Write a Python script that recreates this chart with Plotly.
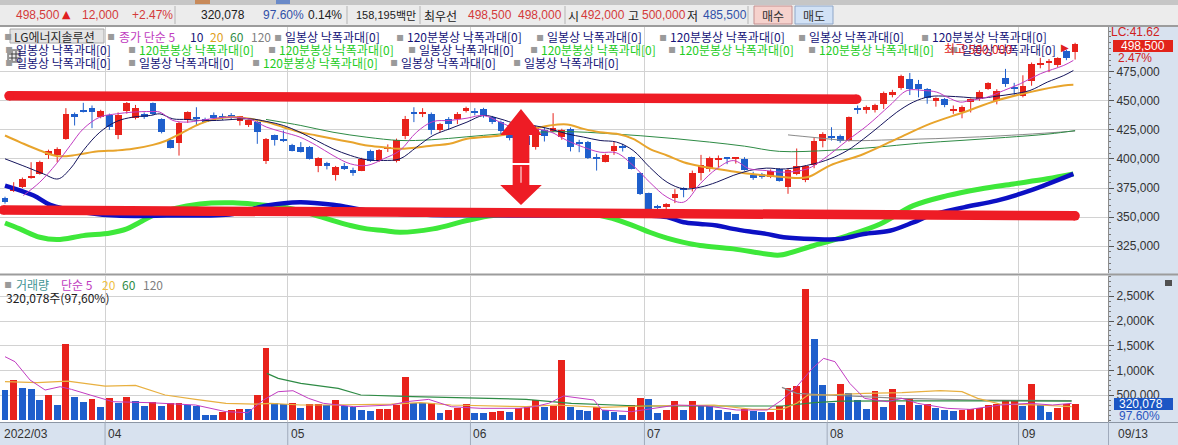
import plotly.graph_objects as go

# ---------------- data ----------------
month_labels = ["2022/03", "04", "05", "06", "07", "08", "09"]
month_start_idx = [0, 12, 33, 54, 74, 95, 117]
last_date_label = "09/13"

open_ = [366400,372800,376200,383700,387100,403500,403500,417300,438800,442300,
         443700,436000,438000,420700,441100,435100,438800,448000,434500,416700,
         413600,433100,435100,434500,438000,436600,436600,432600,428800,432200,
         398600,420200,416500,412100,410100,410100,394300,396600,386600,394300,
         390600,390000,407200,398600,409000,398600,420000,439500,439000,438800,
         424500,434500,434000,441100,440600,443000,436000,431700,424000,415000,
         420000,410000,425300,424000,419000,426000,414000,414500,401000,397800,
         407200,410500,401500,387700,370500,359000,358500,366400,374500,374800,
         388000,391400,399200,400300,400000,400100,386300,387100,384300,391400,
         375700,387100,382200,394900,415800,419000,419500,415800,443200,442200,
         441700,447400,455200,460900,469000,464100,460300,449700,451700,441300,
         440200,448900,451200,460300,450300,469500,460500,454600,466700,480500,
         482600,480500,493000,492000]
high = [367500,380000,384000,397200,398500,408000,410000,443700,440000,448300,
        446000,442300,439000,440000,449000,446500,440000,448600,435000,418000,
        432000,441000,444500,435500,440000,439000,439500,437000,434000,434000,
        418000,421000,424500,413000,414500,411000,401500,397500,394000,396600,
        392500,401000,408000,408500,412500,417500,437000,444500,443700,440000,
        431000,436000,440300,445000,443700,444000,437000,433000,426000,422000,
        421000,428500,427000,439400,426000,427000,416500,415500,404500,404500,
        415000,413000,402000,388500,371000,360500,362000,374000,375600,390000,
        403500,402000,403000,401500,401500,401500,389000,388000,391000,392000,
        392000,409000,394500,418700,423000,427300,421000,436500,446000,446000,
        447500,458000,459500,472500,474000,468000,461000,453000,452500,446000,
        446000,452000,459000,466000,460000,477500,465500,472000,483000,487000,
        486000,487500,494000,500000]
low = [361500,371500,375000,383000,386500,400000,397200,416500,428800,440000,
       426500,435000,425000,417000,439000,434000,434500,437500,422000,409000,
       402900,431000,428800,431500,433000,433500,434000,428800,427500,413000,
       395700,411500,414500,406500,405500,399500,388600,391000,381400,390500,
       385500,389500,397500,397500,406000,397000,417000,431700,436000,421000,
       423000,425000,430000,440000,437500,435500,430000,421500,416000,413000,
       410000,408000,415000,423000,416500,406500,405800,400000,390000,397000,
       403500,406400,391000,369000,355000,355500,355000,362000,367000,372000,
       381500,389000,393000,395500,396000,390000,382000,383000,383500,380500,
       370000,386000,380000,392000,410000,415800,414000,415000,438800,439000,
       440000,443000,453000,459500,455000,453000,447500,445000,444500,438800,
       435000,440000,450000,459500,447000,462000,455200,453000,463000,478000,
       474700,479000,485000,485500]
close = [362700,376200,382800,385700,397800,407200,408700,438800,436000,440300,
         440300,441100,427300,438000,448300,443700,436000,438800,423600,409500,
         431100,440300,434500,432200,435100,436000,436300,436600,433100,423000,
         417300,416700,415900,407200,406400,400100,400900,393700,393400,391400,
         387700,400100,398600,407800,410100,415900,434500,439000,439500,425300,
         429700,429700,438800,443700,440000,436600,431700,424000,418000,420000,
         412000,427300,419600,426500,424500,410000,413000,400700,400500,403500,
         411000,410000,391500,370000,357000,358500,361300,369900,374000,387700,
         395000,400700,399700,400000,400600,390900,383500,384300,390000,381400,
         390900,393700,393700,415800,421600,418700,415800,435900,442500,445100,
         446500,456900,458000,471800,460300,460300,452300,452300,446800,441800,
         444500,451200,458000,465500,458900,464700,460200,463200,481900,482800,
         482900,486500,486500,498500]
volume = [600000,800000,640000,620000,400000,500000,300000,1530000,465000,365000,
          420000,260000,440000,350000,470000,385000,280000,370000,283000,350000,
          350000,296000,283000,100000,95000,170000,200000,230000,225000,500000,
          1460000,336000,323000,336000,235000,316000,320000,296000,404000,275000,
          262000,195000,182000,215000,220000,303000,868000,350000,340000,350000,
          135000,200000,250000,316000,148000,140000,162000,182000,168000,250000,
          255000,404000,270000,283000,1205000,262000,195000,185000,270000,200000,
          168000,100000,296000,444000,417000,135000,200000,377000,200000,377000,
          283000,275000,195000,162000,114000,215000,182000,168000,172000,283000,
          653000,686000,2638000,1642000,700000,350000,720000,552000,404000,229000,
          585000,270000,620000,296000,417000,296000,316000,250000,200000,175000,
          195000,215000,250000,296000,316000,404000,404000,283000,720000,296000,
          162000,250000,316000,320078]

# price moving averages
ma5_x = [2.1,4.0,5.9,7.5,9.0,10.9,12.8,14.7,16.7,17.8,19.3,20.9,22.4,24.3,26.2,28.2,30.1,32.0,33.9,35.8,
         37.7,39.7,41.6,43.5,45.4,47.3,49.2,51.1,53.1,55.0,56.9,58.8,60.7,62.6,64.6,66.5,68.4,70.3,72.2,74.1,
         76.1,78.0,79.9,81.8,83.7,85.6,87.5,89.5,92.2,94.1,96.8,99.1,101.7,103.7,105.6,107.1,108.3,109.8,110.9,
         112.9,114.8,116.7,119.0,121.7,122.8]
ma5_v = [368500,380000,395800,411600,425900,436000,438800,440300,440800,440300,433100,431700,433100,435100,
         436000,434000,427300,423000,418800,411600,403000,395800,394400,400100,407300,423000,432200,433100,
         435100,437400,431700,425900,425900,423600,415900,410100,405800,405200,394300,380000,367100,362800,
         378600,391500,398600,391500,390000,388600,391400,400000,415800,428700,446000,458900,458900,457500,
         453200,448900,450300,453200,458900,464700,473300,480500,484800]
ma10_x = [0.0,2.5,4.4,6.1,7.5,9.0,10.9,12.8,14.7,16.7,17.8,19.3,20.9,22.4,24.3,26.2,28.2,30.1,32.0,33.9,
          35.8,37.7,39.7,41.6,43.5,45.4,47.3,49.2,51.1,53.1,55.0,56.9,58.8,60.7,62.6,64.6,66.5,68.4,70.3,72.2,
          74.1,76.1,78.0,79.9,81.8,83.7,85.6,87.5,89.7,92.9,94.8,96.8,98.7,100.6,102.5,104.4,106.3,108.3,110.2,
          112.1,114.0,115.9,117.8,119.8,121.7,122.8]
ma10_v = [400100,392900,387200,382800,391500,407300,423000,432200,436000,437400,438800,434500,434000,433100,
          433100,434000,434500,432200,428800,423000,415900,408700,403000,399300,398700,400100,410100,420200,
          425900,431700,437400,434500,430200,428800,425900,421600,418800,415900,414500,407300,392900,380000,
          374300,375700,380000,385800,390100,392100,391400,395700,400000,407200,417300,428700,440200,448900,
          453700,454000,453200,452300,454000,456000,458900,466100,471800,476100]
ma20_x = [0.0,1.7,4.0,6.1,8.2,10.5,12.8,14.7,17.0,18.6,20.5,22.4,24.3,26.2,28.2,30.1,32.0,33.9,35.8,37.7,
          39.7,41.6,43.5,45.4,49.2,51.1,53.1,56.9,60.7,62.6,64.6,66.5,68.4,70.3,72.2,74.1,76.1,78.0,79.9,81.8,
          83.7,85.6,87.5,89.7,92.2,94.8,98.7,102.5,106.3,110.2,114.0,117.8,121.7,122.8]
ma20_v = [420200,414500,407300,402400,403500,406400,407300,408700,412100,415900,423000,430200,434500,436000,
          434500,431700,427300,423000,420200,417300,414500,411600,410100,408700,411600,413000,417300,420200,
          425900,428800,429700,425900,423000,421600,417300,408700,403000,397200,393800,391500,389200,387200,
          385800,384200,384200,394300,404300,417300,430200,440200,450300,457500,463200,463800]
ma60_x = [30, 34, 37.7, 41.6, 45.4, 49, 53, 57, 61, 65, 69, 73, 77, 81, 85, 89, 95, 100, 105, 110, 115, 120, 123]
ma60_v = [434000,428800,423000,418700,415900,416500,419000,421500,423000,423500,422000,420000,417500,414500,
          411000,406500,407500,410000,413500,416000,418500,421500,424400]
ma120_x = [90, 93, 97, 102, 107, 112, 117, 123]
ma120_v = [420700, 418500, 415800, 416500, 417500, 419000, 421000, 424000]

# the two thick indicator lines
blue_x = [0,3.3,5.2,9,12.8,18.6,26.2,30.1,33.9,37.7,41.6,45.4,49,55,61,67,74.1,76.1,78,79.9,81.8,83.7,85.6,
          87.5,89.5,92.9,96,98.7,101.7,104.4,106.3,110.2,114,117.8,122.8]
blue_v = [377100,368500,360500,354200,351300,351300,352700,359900,362700,360500,355600,352700,351800,351500,
          351300,351500,351300,349900,345500,344100,342700,339800,337500,335500,332700,331100,331100,335400,
          338200,345400,351200,358300,364100,372700,387100]
green_x = [0,1.7,4,6,9,12.1,14,15.5,17,19.3,22.4,26.2,29.3,32,33.9,35.8,37.7,39.7,41.6,43.5,45.4,49.2,53.1,
           56.1,62.6,68.4,72.2,74.1,76.1,78,79.9,83.7,87.5,89.1,92.9,96.8,100.6,104.4,108.3,112.1,115.9,119.8,122.8]
green_v = [344900,339800,332600,330600,334000,336300,339800,345500,351300,357000,361300,362200,360500,358500,
           355600,351300,347000,342700,339800,338400,336900,339800,347000,351300,352700,351300,342700,336900,
           331800,328200,325500,322600,318200,317300,325300,333900,344000,359800,368400,374200,378500,382900,
           387100]

# volume moving averages (thousands of shares)
vma5_x = [0,1.15,2.88,4.61,6.34,7.64,9.8,12.4,16.7,21.9,25.4,27.9,29.7,31.4,33.1,34.9,36.6,40.1,44.4,46.1,
          48.7,51.3,54.7,59.1,60.8,62.5,64.2,67.7,68.6,72,74.6,77.2,80.7,84.1,87.6,89.3,91,92.8,94.1,95.4,
          97.1,98.8,101.4,103.1,104.9,108.3,110.9,114.4,117.8,120.4,122.6]
vma5_k = [1279,1178,808,606,673,619,505,370,350,303,168,148,404,572,592,437,337,269,303,370,417,269,236,236,
          269,337,485,404,202,168,236,303,283,202,202,404,673,1043,1245,1178,740,437,370,437,337,236,215,303,
          337,303,337]
vma20_x = [0,3.7,7.2,11.5,15,18.4,21.9,25.4,28.8,30.5,34,37.4,44.4,47.8,51.3,59.9,63.4,68.6,73.7,81.5,85.9,
           89.3,91,92.3,94.5,98.8,103.1,107.5,110,111.8,114.4,118.7,122.6]
vma20_k = [774,754,787,686,700,505,417,337,323,337,303,303,323,350,303,269,303,256,283,303,215,215,337,505,
           505,538,552,592,572,437,323,303,269]
vma60_x = [30.1,31.4,34,38.3,40.9,46.9,55.6,59.9,65.1,72.9,81.5,89.3,93,96,103,110,116,122.6]
vma60_k = [942,841,740,639,505,471,437,417,337,283,283,283,350,380,385,390,385,380]
vma120_x = [89.3, 91, 94.5, 103.1, 111.8, 122.6]
vma120_k = [660, 540, 505, 437, 404, 390]

# hand-drawn marks (band endpoints: index, price)
band_top = ([0.46, 97.9], [454350, 451420])
band_bottom = ([-0.2, 123.0], [356060, 351070])

price_ticks = [325000, 350000, 375000, 400000, 425000, 450000, 475000]
vol_ticks = [500000, 1000000, 1500000, 2000000, 2500000]
vol_tick_text = ["500,000", "1,000K", "1,500K", "2,000K", "2,500K"]

# ---------------- layout geometry ----------------
W, H = 1178, 445
ML, MR, MT, MB = 0, 70, 27, 23
PW, PH = W - ML - MR, H - MT - MB

def px(x):
    return (x - ML) / PW

def py(y):
    return (H - MB - y) / PH

RED = "#e8221b"
BLUE = "#1f5fcc"
KR = "Noto Sans CJK KR"
NUM = "Liberation Sans, Arial, sans-serif"
NAVY = "#101080"

n = len(close)
idx = list(range(n))
up = [c >= o for o, c in zip(open_, close)]
cols = [RED if u else BLUE for u in up]
vcols = [BLUE] + [RED if volume[i] >= volume[i - 1] else BLUE for i in range(1, n)]
body_base = [min(o, c) for o, c in zip(open_, close)]
body_h = [max(abs(c - o), 900) for o, c in zip(open_, close)]

fig = go.Figure()

# thick indicator lines
fig.add_trace(go.Scatter(x=green_x, y=green_v, mode="lines", line=dict(color="#3ee83a", width=5, shape="spline"),
                         xaxis="x", yaxis="y", hoverinfo="skip"))
fig.add_trace(go.Scatter(x=blue_x, y=blue_v, mode="lines", line=dict(color="#0c10c4", width=4.5, shape="spline"),
                         xaxis="x", yaxis="y", hoverinfo="skip"))

# wicks
for want, col in ((True, RED), (False, BLUE)):
    wx, wy = [], []
    for i in idx:
        if up[i] == want:
            wx += [i, i, None]
            wy += [low[i], high[i], None]
    fig.add_trace(go.Scatter(x=wx, y=wy, mode="lines", line=dict(color=col, width=1),
                             xaxis="x", yaxis="y", hoverinfo="skip"))
# bodies
fig.add_trace(go.Bar(x=idx, y=body_h, base=body_base, marker=dict(color=cols, line=dict(width=0)),
                     width=0.78, xaxis="x", yaxis="y", hoverinfo="skip"))

# moving averages
for xs, vs, col, wd in ((ma120_x, ma120_v, "#8a8a8a", 1), (ma60_x, ma60_v, "#2e8b45", 1),
                        (ma20_x, ma20_v, "#e8a42c", 2), (ma10_x, ma10_v, "#14145c", 1),
                        (ma5_x, ma5_v, "#c23cc2", 1)):
    fig.add_trace(go.Scatter(x=xs, y=vs, mode="lines", line=dict(color=col, width=wd, shape="spline"),
                             xaxis="x", yaxis="y", hoverinfo="skip"))

# hand-drawn red bands
for bx, by in (band_top, band_bottom):
    fig.add_trace(go.Scatter(x=bx, y=by, mode="lines+markers", line=dict(color="#ee1c25", width=9.5),
                             marker=dict(color="#ee1c25", size=9.5, line=dict(width=0)),
                             xaxis="x", yaxis="y", hoverinfo="skip"))

# volume
fig.add_trace(go.Bar(x=idx, y=volume, marker=dict(color=vcols, line=dict(width=0)), width=0.8,
                     xaxis="x2", yaxis="y2", hoverinfo="skip"))
for xs, vs, col, wd in ((vma120_x, vma120_k, "#8a8a8a", 1.2), (vma60_x, vma60_k, "#2e8b45", 1.2),
                        (vma20_x, vma20_k, "#e8b040", 1.2), (vma5_x, vma5_k, "#c23cc2", 1)):
    fig.add_trace(go.Scatter(x=xs, y=[v * 1000 for v in vs], mode="lines", line=dict(color=col, width=wd),
                             xaxis="x2", yaxis="y2", hoverinfo="skip"))

grid_x = [m - 0.5 for m in month_start_idx[1:]]
xrange_ = [-0.575, (1108 - 5) / 8.7]

axis_common = dict(range=xrange_, showgrid=True, gridcolor="#d2d2d2", gridwidth=1, tickvals=grid_x,
                   showticklabels=False, zeroline=False, showline=False, ticks="", fixedrange=True)

fig.update_layout(
    width=W, height=H, margin=dict(l=ML, r=MR, t=MT, b=MB),
    paper_bgcolor="white", plot_bgcolor="white", showlegend=False, bargap=0,
    xaxis=dict(domain=[0, 1], anchor="y", **axis_common),
    xaxis2=dict(domain=[0, 1], anchor="y2", matches="x", **axis_common),
    yaxis=dict(domain=[py(273), 1], range=[301850, 513550], side="right", anchor="x",
               tickvals=price_ticks, ticktext=[f"{v:,}" for v in price_ticks],
               ticks="outside", ticklen=5, tickcolor="#555", showline=True, linecolor="#8c8c8c",
               gridcolor="#d2d2d2", zeroline=False, tickfont=dict(family=NUM, size=12, color="#333"),
               minor=dict(ticks="outside", ticklen=2, tickcolor="#777", dtick=5000, showgrid=False),
               fixedrange=True),
    yaxis2=dict(domain=[0, py(276)], range=[-40000, 2909000], side="right", anchor="x2",
                tickvals=vol_ticks, ticktext=vol_tick_text,
                ticks="outside", ticklen=5, tickcolor="#555", showline=True, linecolor="#8c8c8c",
                gridcolor="#d2d2d2", zeroline=False, tickfont=dict(family=NUM, size=12, color="#333"),
                minor=dict(ticks="outside", ticklen=2, tickcolor="#777", dtick=100000, showgrid=False),
                fixedrange=True),
)

shapes = []
ann = []

def rect(x0, y0, x1, y1, fill, line=None, layer="below", lw=1):
    shapes.append(dict(type="rect", xref="paper", yref="paper", x0=px(x0), x1=px(x1), y0=py(y1), y1=py(y0),
                       fillcolor=fill, line=dict(width=lw if line else 0, color=line or fill), layer=layer))

def hline(x0, x1, y, color, w=1, layer="above"):
    shapes.append(dict(type="line", xref="paper", yref="paper", x0=px(x0), x1=px(x1), y0=py(y), y1=py(y),
                       line=dict(color=color, width=w), layer=layer))

def vline(x, y0, y1, color, w=1, layer="above"):
    shapes.append(dict(type="line", xref="paper", yref="paper", x0=px(x), x1=px(x), y0=py(y0), y1=py(y1),
                       line=dict(color=color, width=w), layer=layer))

def txt(x, y, s, color, size=12, family=KR, anchor="left"):
    ann.append(dict(x=px(x), y=py(y), xref="paper", yref="paper", text=s, showarrow=False, xanchor=anchor,
                    yanchor="middle", font=dict(color=color, size=size, family=family), borderpad=0))

# header
rect(0, 0, 1178, 5, "#c6c6c6")
rect(0, 5, 1178, 25, "#ececec")
for sx in (175, 347, 420, 565, 748):
    vline(sx, 6, 24, "#b4b4b4")
hline(0, 1178, 25.5, "#9c9c9c")
rect(195, 0, 210, 4, "#c88a5a")
rect(276, 0, 290, 4, "#6a8ac8")
txt(15, 15, "498,500", "#d43a3a", 12, NUM)
txt(61, 14, "▲", "#e02020", 11, "DejaVu Sans")
txt(81, 15, "12,000", "#d43a3a", 12, NUM)
txt(131, 15, "+2.47%", "#d43a3a", 12, NUM)
txt(200, 15, "320,078", "#202020", 12, NUM)
txt(262, 15, "97.60%", "#3050a8", 12, NUM)
txt(307, 15, "0.14%", "#202020", 12, NUM)
txt(355, 15, "158,195", "#202020", 11, NUM)
txt(395, 15, "백만", "#202020", 11, KR)
txt(423, 15, "최우선", "#202020", 12, KR)
txt(467, 15, "498,500", "#d43a3a", 12, NUM)
txt(517, 15, "498,000", "#d43a3a", 12, NUM)
txt(567, 15, "시", "#202020", 12, KR)
txt(580, 15, "492,000", "#d43a3a", 12, NUM)
txt(627, 15, "고", "#202020", 12, KR)
txt(641, 15, "500,000", "#d43a3a", 12, NUM)
txt(686, 15, "저", "#202020", 12, KR)
txt(702, 15, "485,500", "#3050a8", 12, NUM)
rect(754, 6, 792, 24, "#f6d2cd", "#c49090", layer="above")
rect(795, 6, 833, 24, "#d2e2f6", "#8ea6c8", layer="above")
txt(773, 15, "매수", "#303030", 12, KR, "center")
txt(814, 15, "매도", "#303030", 12, KR, "center")

# right axis panels and bottom date strip
rect(1108, 26, 1178, 422, "#d8e2ef")
rect(0, 422, 1178, 445, "#d8e2ef")
hline(0, 1178, 26.5, "#9c9c9c")
hline(0, 1178, 274.5, "#9c9c9c", 2)
hline(0, 1178, 422.5, "#8c96a4")
vline(1108.5, 422, 445, "#a0aabb")

# date labels
for lab, m in zip(month_labels, month_start_idx):
    if m == 0:
        ann.append(dict(x=px(2), y=py(434), xref="paper", yref="paper", text=lab, showarrow=False,
                        xanchor="left", yanchor="middle", font=dict(family=NUM, size=12, color="#333")))
    else:
        ann.append(dict(x=m - 0.5, y=py(434), xref="x", yref="paper", text=lab, showarrow=False,
                        xanchor="left", yanchor="middle", xshift=1,
                        font=dict(family=NUM, size=12, color="#333")))
        shapes.append(dict(type="line", xref="x", yref="paper", x0=m - 0.5, x1=m - 0.5, y0=py(445), y1=py(422),
                           line=dict(color="#a0aabb", width=1), layer="above"))
txt(1117, 434, last_date_label, "#333", 12, NUM)

# price legend rows
NV = "#141478"
GR = "#22cc22"
SQ = "#9a9a9a"
rect(10, 29, 104, 43, "#e4e4e4", "#a8a8a8", layer="above")
txt(3, 36, "▪", SQ, 12, "DejaVu Sans")
txt(13, 36, "LG에너지솔루션", "#2a2a2a", 12)
txt(106, 36, "▪", SQ, 12, "DejaVu Sans")
txt(118, 36, "종가 단순 5", "#c03cc0", 12)
txt(189, 36, "10", NV, 12)
txt(209, 36, "20", "#e0a020", 12)
txt(229, 36, "60", "#2e8b45", 12)
txt(250, 36, "120", "#808080", 12)
row1 = [(284, "일봉상 낙폭과대[0]", NV), (406, "120분봉상 낙폭과대[0]", NV), (546, "일봉상 낙폭과대[0]", NV),
        (669, "120분봉상 낙폭과대[0]", NV), (808, "일봉상 낙폭과대[0]", NV), (931, "120분봉상 낙폭과대[0]", NV)]
row2 = [(15, "일봉상 낙폭과대[0]", NV), (138, "120분봉상 낙폭과대[0]", GR), (278, "120분봉상 낙폭과대[0]", GR),
        (418, "일봉상 낙폭과대[0]", NV), (540, "120분봉상 낙폭과대[0]", GR), (678, "120분봉상 낙폭과대[0]", GR),
        (818, "120분봉상 낙폭과대[0]", GR), (960, "일봉상 낙폭과대[0]", NV)]
row3 = [(15, "일봉상 낙폭과대[0]", NV), (138, "일봉상 낙폭과대[0]", NV), (262, "120분봉상 낙폭과대[0]", GR),
        (400, "일봉상 낙폭과대[0]", NV), (523, "일봉상 낙폭과대[0]", NV)]
for ry, row in ((36.5, row1), (49.5, row2), (62, row3)):
    for rx, s, c in row:
        txt(rx - 11, ry, "▪", SQ, 12, "DejaVu Sans")
        txt(rx, ry, s, c, 12)
txt(943, 49, "최고 500,000", "#e02020", 12)
txt(1060, 48, "▶", "#e02020", 10, "DejaVu Sans")
rect(8, 50, 20, 62, "#e8e8e8", "#404040", layer="above")
hline(9, 19, 54, "#404040")
hline(9, 19, 58, "#404040")
vline(12, 51, 61, "#404040")
vline(16, 51, 61, "#404040")

# price axis extras
txt(1110, 32, "LC:41.62", "#d02020", 12, NUM)
rect(1113, 40, 1173, 52, "#e2231a", layer="above")
txt(1120, 46, "498,500", "white", 12, NUM)
txt(1117, 58, "2.47%", "#d02020", 12, NUM)

# volume legend + axis extras
txt(3, 284, "▪", SQ, 12, "DejaVu Sans")
txt(15, 284, "거래량", "#3f9494", 12)
txt(60, 284, "단순 5", "#c03cc0", 12)
txt(101, 284, "20", "#f0c040", 12)
txt(121, 284, "60", "#2e8b45", 12)
txt(142, 284, "120", "#808080", 12)
txt(5, 297, "320,078주(97,60%)", "#202020", 12)
rect(1114, 398, 1173, 410, "#1c56c4", layer="above")
txt(1118, 404, "320,078", "white", 12, NUM)
txt(1118, 416, "97.60%", "#2a55c0", 12, NUM)
rect(1165, 280, 1172, 286, "#505050", layer="above")

# red double arrow (hand drawn)
ac, hw, sw = 59.31, 2.39, 0.96
up_arrow = (f"M {ac},442990 L {ac + hw},420610 L {ac + sw},420610 L {ac + sw},396510 "
            f"L {ac - sw},396510 L {ac - sw},420610 L {ac - hw},420610 Z")
dn_arrow = (f"M {ac - sw},394790 L {ac + sw},394790 L {ac + sw},377580 L {ac + hw},377580 "
            f"L {ac},360370 L {ac - hw},377580 L {ac - sw},377580 Z")
for p in (up_arrow, dn_arrow):
    shapes.append(dict(type="path", xref="x", yref="y", path=p, fillcolor="#ee1c25",
                       line=dict(width=0), layer="above"))
shapes.append(dict(type="line", xref="x", yref="y", x0=ac, x1=ac, y0=393500, y1=379500,
                   line=dict(color="white", width=1), layer="above"))

fig.update_layout(shapes=shapes, annotations=ann)
fig.write_html("out.html", config={"displayModeBar": False},
               post_script="document.body.style.margin='0';document.body.style.overflow='hidden';")
